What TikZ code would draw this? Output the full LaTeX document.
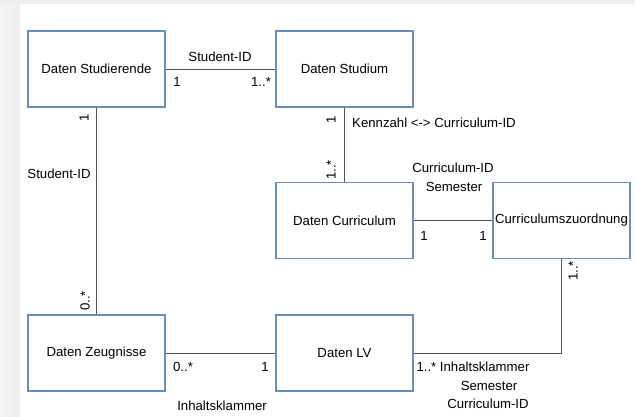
\documentclass[tikz,border=0pt]{standalone}
\usepackage{fontspec}
\setmainfont{Liberation Sans}
\definecolor{boxblue}{HTML}{6C8EBF}
\definecolor{linegray}{HTML}{555555}
\definecolor{bggray}{HTML}{EEEEEE}
\begin{document}
\begin{tikzpicture}[x=1pt,y=-1pt,
  entity/.style={draw=boxblue,line width=1.1pt,fill=white,minimum width=137pt,minimum height=76pt,inner sep=0pt,font=\fontsize{13.2}{15}\selectfont},
  conn/.style={draw=linegray,line width=1pt},
  lbl/.style={font=\fontsize{13.2}{15}\selectfont,inner sep=0pt},
  vlbl/.style={font=\fontsize{13.2}{15}\selectfont,inner sep=0pt,rotate=90}]
\useasboundingbox (0,0) rectangle (635,416);
\fill[white] (0,0) rectangle (635,416);
\shade[left color=bggray!60,right color=bggray] (0,0) rectangle (20,416);
\fill[bggray] (0,0) rectangle (635,4);
\node[entity] (stud) at (96.5,69) {Daten Studierende};
\node[entity] (studium) at (344.5,69) {Daten Studium};
\node[entity] (curr) at (344.5,220.5) {Daten Curriculum};
\node[entity] (zuord) at (561.5,220.5) {Curriculumszuordnung};
\node[entity] (zeug) at (96.5,353) {Daten Zeugnisse};
\node[entity] (lv) at (344.5,353) {Daten LV};
\coordinate (bend) at (561.5,353);
\draw[conn] (stud) -- (studium);
\draw[conn] (studium) -- (curr);
\draw[conn] (curr) -- (zuord);
\draw[conn] (stud) -- (zeug);
\draw[conn] (zeug) -- (lv);
\draw[conn] (zuord.south) -- (bend) -- (lv.east);
\node[lbl] (l1) at (220,57) {Student-ID};
\node[lbl] (l2) at (177,82) {1};
\node[lbl] (l3) at (261,82) {1..*};
\node[vlbl] (l4) at (331,120) {1};
\node[lbl,anchor=west] (l5) at (352,123) {Kennzahl <-> Curriculum-ID};
\node[vlbl] (l6) at (331,170) {1..*};
\node[lbl] (l7) at (453,168) {Curriculum-ID};
\node[lbl] (l8) at (454,187) {Semester};
\node[lbl] (l9) at (424,236) {1};
\node[lbl] (l10) at (483,236) {1};
\node[vlbl] (l11) at (573,271) {1..*};
\node[vlbl] (l12) at (84,118) {1};
\node[lbl] (l13) at (59,174) {Student-ID};
\node[vlbl] (l14) at (85,301) {0..*};
\node[lbl] (l15) at (183,367) {0..*};
\node[lbl] (l16) at (265,367) {1};
\node[lbl] (l17) at (222,406) {Inhaltsklammer};
\node[lbl] (l18) at (473,367) {1..* Inhaltsklammer};
\node[lbl] (l19) at (489,386) {Semester};
\node[lbl] (l20) at (488,404) {Curriculum-ID};
\end{tikzpicture}
\end{document}
